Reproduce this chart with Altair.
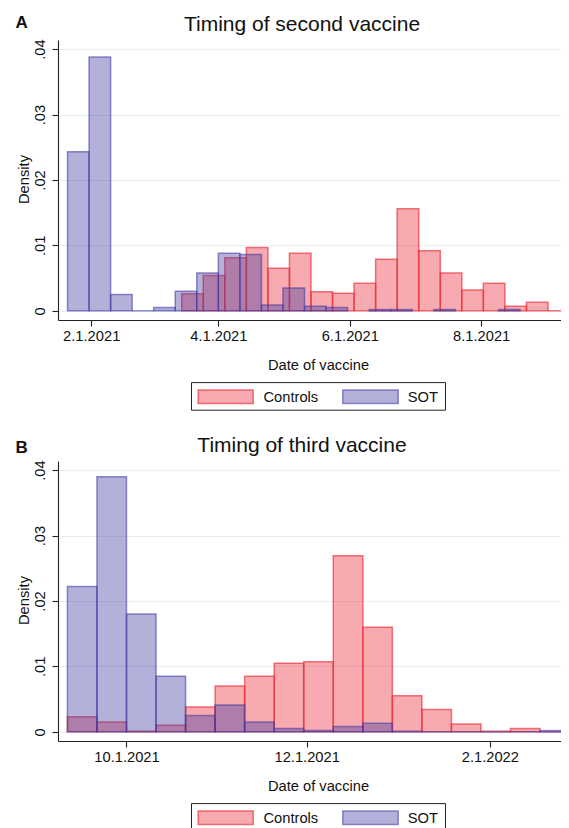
import altair as alt
import pandas as pd

FONT = "Liberation Sans"
TEXT = "#111111"
AXIS = "#222222"
RED = "rgb(235,45,57)"
BLUE = "rgb(65,57,162)"
STROKE_OP = {RED: 0.65, BLUE: 0.57}

# ---------------- data (10-day bins, density) ----------------
BIN_DAYS = 10

# Panel A: timing of second vaccine
a_sot_start = "2021-01-21"
a_sot = [0.0243, 0.0388, 0.0025, 0.0, 0.0005, 0.0030, 0.0058, 0.0088, 0.0086,
         0.0009, 0.0035, 0.0007, 0.0005, None, 0.0002, 0.0002, None, 0.0002,
         None, None, 0.0002]
a_ctrl_start = "2021-03-15"
a_ctrl = [0.0026, 0.0054, 0.0081, 0.0097, 0.0065, 0.0088, 0.0029, 0.0027,
          0.0042, 0.0079, 0.0156, 0.0092, 0.0058, 0.0032, 0.0042, 0.0007,
          0.0013, 0.0]

# Panel B: timing of third vaccine
b_sot_start = "2021-09-11"
b_sot = [0.0222, 0.0390, 0.0180, 0.0085, 0.0025, 0.0041, 0.0015, 0.0005,
         0.0002, 0.0008, 0.0013, 0.0001, 0.0, 0.0, 0.0, 0.0, 0.0002]
b_ctrl_start = "2021-09-11"
b_ctrl = [0.0023, 0.0015, 0.0001, 0.0010, 0.0038, 0.0070, 0.0085, 0.0105,
          0.0107, 0.0269, 0.0160, 0.0055, 0.0034, 0.0012, 0.0001, 0.0005, 0.0]

a_ticks = ["2021-02-01", "2021-04-01", "2021-06-01", "2021-08-01"]
b_ticks = ["2021-10-01", "2021-12-01", "2022-02-01"]
a_range = ["2021-01-16T14:00", "2021-09-11T05:00"]
b_range = ["2021-09-07T19:30", "2022-02-28T03:30"]
y_ticks = [0, 0.01, 0.02, 0.03, 0.04]
y_range = [-0.0014, 0.0414]

groups = ["Controls", "SOT"]
titles = ["Timing of second vaccine", "Timing of third vaccine"]
letters = ["A", "B"]

W, H = 512, 280
FS = 14.7


def to_dt(s):
    t = pd.Timestamp(s)
    return alt.DateTime(year=t.year, month=t.month, date=t.day,
                        hours=t.hour, minutes=t.minute)


def bin_frame(start, values):
    s = pd.Timestamp(start)
    rows = []
    for i, v in enumerate(values):
        if v is None:
            continue
        b0 = s + pd.Timedelta(days=BIN_DAYS * i)
        b1 = b0 + pd.Timedelta(days=BIN_DAYS)
        rows.append({"start": b0.strftime("%Y-%m-%dT%H:%M:%S"),
                     "end": b1.strftime("%Y-%m-%dT%H:%M:%S"),
                     "density": v})
    return pd.DataFrame(rows)


def one(txt=""):
    return alt.Data(values=[{"t": txt}])


def panel(title, letter, sot_start, sot, ctrl_start, ctrl, ticks, xr, t_base, l_base):
    xscale = alt.Scale(domain=[to_dt(xr[0]), to_dt(xr[1])])
    yscale = alt.Scale(domain=y_range, nice=False, zero=False)
    xaxis = alt.Axis(values=[to_dt(t) for t in ticks], format="%-m.%-d.%Y",
                     title="Date of vaccine", labelFontSize=FS, labelPadding=2,
                     tickSize=6, grid=False, labelFlush=False, labelOverlap=False,
                     titleFontSize=FS, titleFontWeight="normal", titleX=260,
                     titleY=49.4, titleAlign="center", titleBaseline="alphabetic")
    yaxis = alt.Axis(values=y_ticks,
                     labelExpr="datum.value == 0 ? '0' : substring(format(datum.value, '.2f'), 1)",
                     title="Density", labelAngle=270, labelAlign="center",
                     labelBaseline="alphabetic", labelPadding=8, tickSize=6,
                     labelFontSize=FS, grid=True, gridColor="#E6EFF2", gridWidth=1.2,
                     titleAngle=270, titleX=-29.2, titleY=139, titleAlign="center",
                     titleBaseline="alphabetic", titleFontSize=FS,
                     titleFontWeight="normal")

    def bars(start, values, color):
        return alt.Chart(bin_frame(start, values)).mark_rect(
            fill=color, fillOpacity=0.4, stroke=color,
            strokeOpacity=STROKE_OP[color], strokeWidth=1.5, clip=True
        ).encode(
            x=alt.X("start:T", scale=xscale, axis=xaxis),
            x2="end:T",
            y=alt.Y("density:Q", scale=yscale, axis=yaxis),
            y2=alt.datum(0),
        )

    red = bars(ctrl_start, ctrl, RED)
    blue = bars(sot_start, sot, BLUE)

    ttl = alt.Chart(one(title)).mark_text(
        text=title, fontSize=21, align="center", baseline="alphabetic",
        color=TEXT, font=FONT
    ).encode(x=alt.value(244), y=alt.value(t_base))
    let = alt.Chart(one(letter)).mark_text(
        text=letter, fontSize=17, fontWeight="bold", align="left",
        baseline="alphabetic", color=TEXT, font=FONT
    ).encode(x=alt.value(-42.5), y=alt.value(l_base))

    ly0, ly1 = 342.6, 370.2
    box = alt.Chart(one()).mark_rect(fill="white", stroke=AXIS, strokeWidth=1).encode(
        x=alt.value(133.5), x2=alt.value(387.5), y=alt.value(ly0), y2=alt.value(ly1))

    def swatch(x0, x1, color):
        return alt.Chart(one()).mark_rect(
            fill=color, fillOpacity=0.4, stroke=color,
            strokeOpacity=STROKE_OP[color], strokeWidth=1.5
        ).encode(x=alt.value(x0), x2=alt.value(x1),
                 y=alt.value(ly0 + 7.3), y2=alt.value(ly0 + 21.0))

    def label(txt, x0):
        return alt.Chart(one(txt)).mark_text(
            text=txt, fontSize=FS, align="left", baseline="alphabetic",
            color=TEXT, font=FONT
        ).encode(x=alt.value(x0), y=alt.value(ly0 + 19.3))

    return alt.layer(
        red, blue, ttl, let, box,
        swatch(140.2, 195.2, RED), label(groups[0], 205.5),
        swatch(284.8, 340.2, BLUE), label(groups[1], 349.8),
    ).properties(width=W, height=H)


pa = panel(titles[0], letters[0], a_sot_start, a_sot, a_ctrl_start, a_ctrl,
           a_ticks, a_range, -9.3, -12)
pb = panel(titles[1], letters[1], b_sot_start, b_sot, b_ctrl_start, b_ctrl,
           b_ticks, b_range, -9.0, -8.4)

chart = alt.vconcat(pa, pb, spacing=24).properties(
    padding={"left": 7, "top": 5, "right": -9, "bottom": -4}
).configure(font=FONT).configure_view(strokeWidth=0).configure_axis(
    domainColor=AXIS, tickColor=AXIS, labelColor=TEXT, titleColor=TEXT,
    labelFont=FONT, titleFont=FONT, domainWidth=1.1, tickWidth=1.1
)

chart.save("out.html", embed_options={"renderer": "svg", "actions": False})
